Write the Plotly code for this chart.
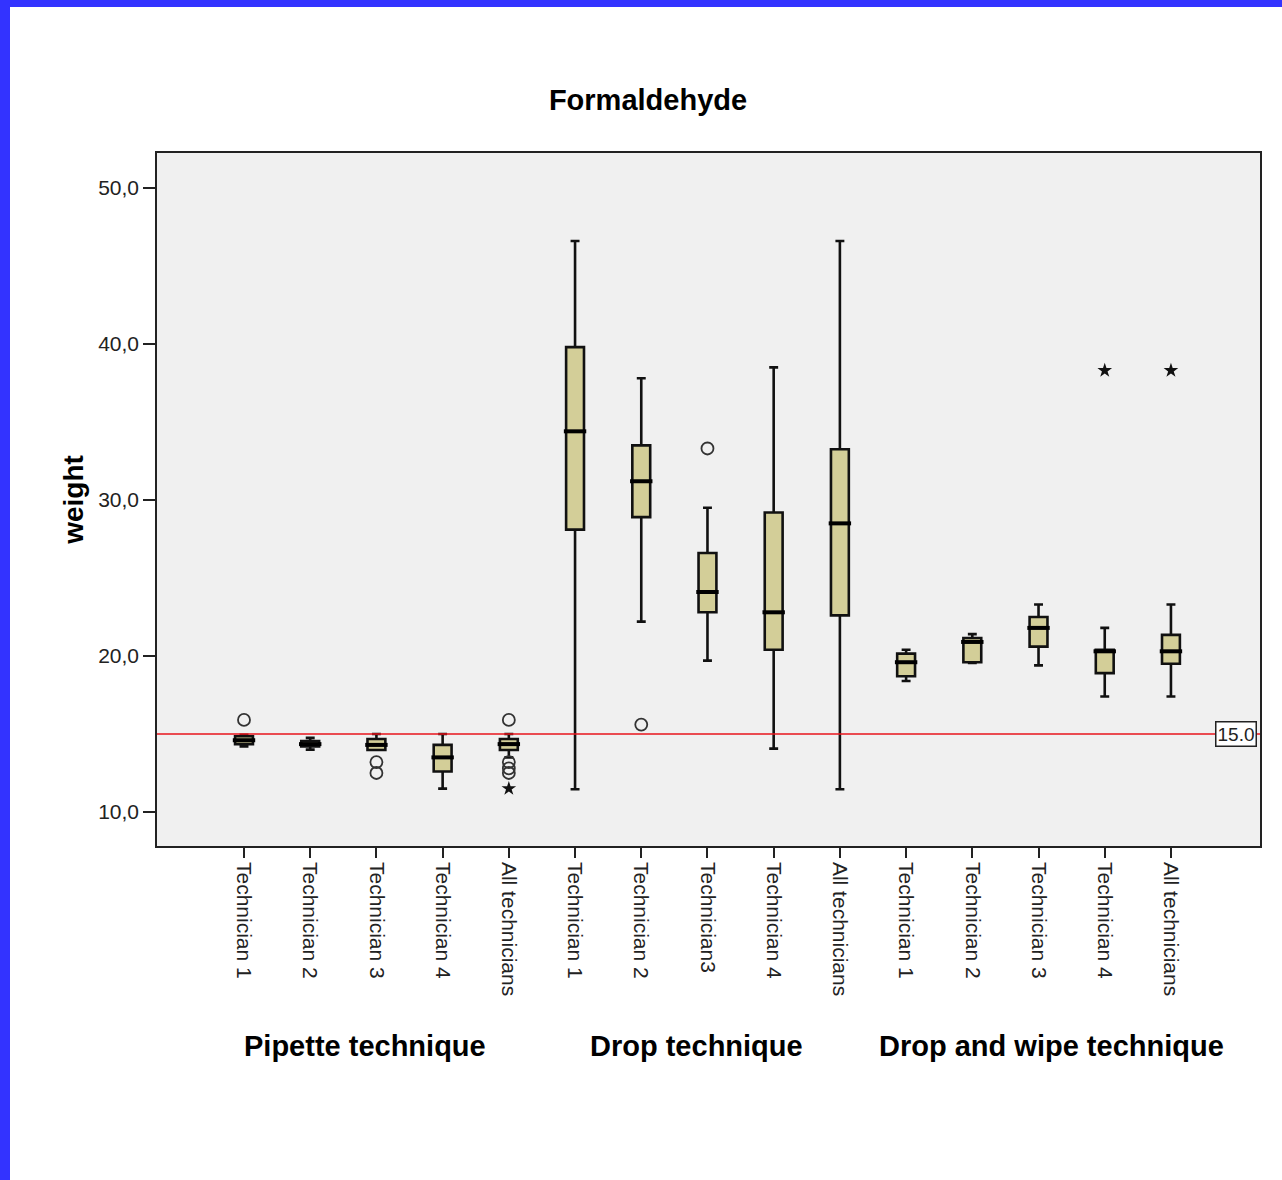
import plotly.graph_objects as go

# ---------------- data ----------------
tick_labels = ["Technician 1", "Technician 2", "Technician 3", "Technician 4", "All technicians",
               "Technician 1", "Technician 2", "Technician3", "Technician 4", "All technicians",
               "Technician 1", "Technician 2", "Technician 3", "Technician 4", "All technicians"]
groups = ["Pipette technique", "Drop technique", "Drop and wipe technique"]

lower_whisker = [14.2, 14.0, 13.97, 11.5, 13.5, 11.46, 22.2, 19.7, 14.06, 11.46, 18.4, 19.55, 19.4, 17.4, 17.4]
q1_vals       = [14.35, 14.2, 13.97, 12.6, 13.97, 28.1, 28.9, 22.8, 20.4, 22.6, 18.7, 19.6, 20.6, 18.9, 19.5]
median_vals   = [14.6, 14.35, 14.3, 13.5, 14.35, 34.4, 31.2, 24.1, 22.8, 28.5, 19.6, 20.9, 21.8, 20.3, 20.3]
q3_vals       = [14.85, 14.55, 14.68, 14.3, 14.68, 39.8, 33.5, 26.6, 29.2, 33.25, 20.15, 21.15, 22.5, 20.4, 21.35]
upper_whisker = [14.95, 14.75, 15.0, 15.0, 15.0, 46.6, 37.8, 29.5, 38.5, 46.6, 20.4, 21.4, 23.3, 21.8, 23.3]

circle_pos = [0, 2, 2, 4, 4, 4, 4, 6, 7]
circle_val = [15.9, 13.2, 12.5, 15.9, 13.2, 12.8, 12.5, 15.6, 33.3]
star_pos = [4, 13, 14]
star_val = [11.5, 38.3, 38.3]

reference_value = 15.0
y_ticks = [10, 20, 30, 40, 50]

positions = list(range(len(tick_labels)))

# ---------------- figure ----------------
FILL = "rgb(211,206,152)"
fig = go.Figure()

fig.add_trace(go.Box(
    x=positions, q1=q1_vals, median=median_vals, q3=q3_vals,
    lowerfence=lower_whisker, upperfence=upper_whisker,
    width=0.27, whiskerwidth=0.5,
    fillcolor=FILL, line=dict(color="#111111", width=2.6),
    boxpoints=False, hoverinfo="skip", showlegend=False,
))

# thick median lines
fig.add_trace(go.Scatter(
    x=positions, y=median_vals, mode="markers",
    marker=dict(symbol="line-ew", size=16, line=dict(color="black", width=4)),
    hoverinfo="skip", showlegend=False,
))

fig.add_trace(go.Scatter(
    x=circle_pos, y=circle_val, mode="markers",
    marker=dict(symbol="circle-open", size=12, color="#333333", line=dict(width=1.8)),
    showlegend=False,
))
fig.add_trace(go.Scatter(
    x=star_pos, y=star_val, mode="markers",
    marker=dict(symbol="star", size=11, color="#111111"),
    showlegend=False,
))

# reference line
fig.add_shape(type="line", xref="paper", x0=0, x1=1, yref="y", y0=reference_value, y1=reference_value,
              line=dict(color="#e8141c", width=1.5), layer="above")
fig.add_annotation(xref="paper", x=0.997, xanchor="right", yref="y", y=reference_value, yanchor="middle",
                   text=f"{reference_value:.1f}", showarrow=False,
                   font=dict(family="Liberation Sans, Arial", size=19, color="#222"),
                   bgcolor="white", bordercolor="#222", borderwidth=1.5, borderpad=1)

# group labels
group_x = [1.83, 6.83, 12.19]
for gx, g in zip(group_x, groups):
    fig.add_annotation(xref="x", x=gx, yref="paper", y=-0.2886, yanchor="middle",
                       text=f"<b>{g}</b>", showarrow=False,
                       font=dict(family="Liberation Sans, Arial", size=29, color="black"))

# blue frame (left and top)
PW, PH = 1103.0, 693.0
L, B = 157.0, 846.0
def px(xp): return (xp - L) / PW
def py(yp): return (B - yp) / PH
fig.add_shape(type="rect", xref="paper", yref="paper", x0=px(0), x1=px(10), y0=py(1180), y1=py(0),
              fillcolor="#3333ff", line=dict(width=0), layer="above")
fig.add_shape(type="rect", xref="paper", yref="paper", x0=px(0), x1=px(1282), y0=py(7), y1=py(0),
              fillcolor="#3333ff", line=dict(width=0), layer="above")

fig.update_layout(
    width=1282, height=1180,
    margin=dict(l=157, r=22, t=153, b=334),
    paper_bgcolor="white", plot_bgcolor="#f0f0f0",
    separators=",.",
    font=dict(family="Liberation Sans, Arial", color="#222"),
    title=dict(text="<b>Formaldehyde</b>", xref="container", x=648/1282, xanchor="center",
               yref="container", y=1 - 100/1180, yanchor="middle",
               font=dict(size=29, color="black")),
    showlegend=False,
)
fig.update_xaxes(
    range=[-1.314, 15.345], tickmode="array", tickvals=positions, ticktext=tick_labels,
    tickangle=90, ticks="outside", ticklen=10, tickwidth=1.5, tickcolor="#222",
    tickfont=dict(size=21, color="#222"),
    showline=True, linecolor="#222", linewidth=1.5, mirror=True, showgrid=False, zeroline=False,
)
fig.update_yaxes(
    range=[7.82, 52.24], tickmode="array", tickvals=y_ticks, tickformat=".1f",
    ticks="outside", ticklen=12, tickwidth=1.5, tickcolor="#222",
    tickfont=dict(size=21, color="#222"),
    title=dict(text="<b>weight</b>", font=dict(size=28, color="black"), standoff=6),
    showline=True, linecolor="#222", linewidth=1.5, mirror=True, showgrid=False, zeroline=False,
)

fig.write_html("out.html")
